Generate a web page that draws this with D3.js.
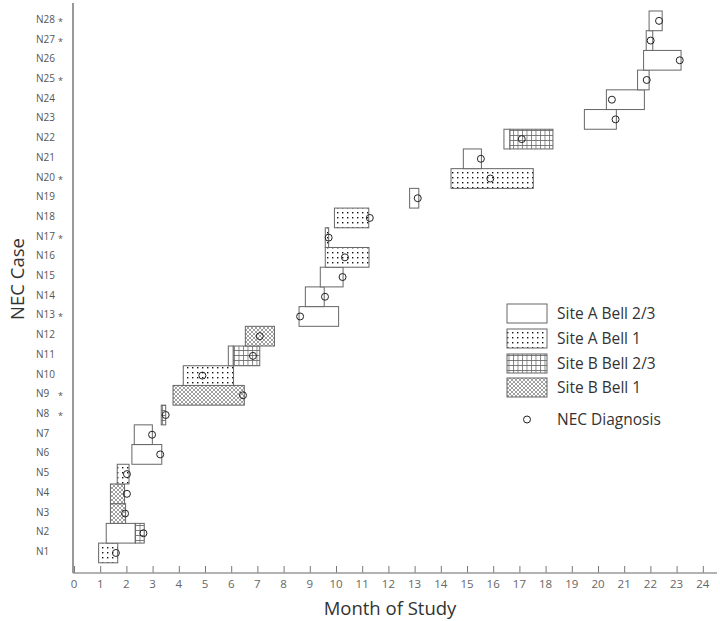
<!DOCTYPE html>
<html>
<head>
<meta charset="utf-8">
<script src="https://cdn.jsdelivr.net/npm/d3@7"></script>
<style>
  body { margin: 0; background: #fff; }
  svg text { font-family: "Open Sans", sans-serif; }
</style>
</head>
<body>
<div id="vis_container"></div>
<script>
// cases, bottom to top
var cases = ["N1","N2","N3","N4","N5","N6","N7","N8","N9","N10","N11","N12","N13","N14",
  "N15","N16","N17","N18","N19","N20","N21","N22","N23","N24","N25","N26","N27","N28"];
var starred = ["N8","N9","N13","N17","N20","N25","N27","N28"];

// exposure segments: case, start month, end month, group
var segCase  = ["N1","N2","N2","N3","N4","N5","N6","N7","N8","N9","N10","N11","N11","N12",
  "N13","N14","N15","N16","N17","N18","N19","N20","N21","N22","N22","N23","N24","N25","N26","N27","N28"];
var segStart = [0.94,1.23,2.34,1.39,1.39,1.65,2.21,2.30,3.33,3.78,4.17,5.89,6.08,6.54,
  8.59,8.83,9.40,9.59,9.59,9.94,12.81,14.39,14.86,16.41,16.64,19.48,20.32,21.51,21.74,21.84,21.95];
var segEnd   = [1.67,2.34,2.68,1.97,1.93,2.10,3.35,2.99,3.50,6.50,6.09,6.08,7.09,7.65,
  10.10,9.55,10.27,11.26,9.72,11.25,13.16,17.53,15.55,16.64,18.28,20.70,21.77,21.95,23.17,22.09,22.45];
var segGroup = ["A1","A23","B23","B1","B1","A1","A23","A23","B23","B1","A1","A23","B23","B1",
  "A23","A23","A23","A1","A1","A1","A23","A1","A23","A23","B23","A23","A23","A23","A23","A23","A23"];

// NEC diagnosis month per case (same order as cases)
var diagnosis = [1.60,2.65,1.95,2.02,2.02,3.29,2.98,3.50,6.45,4.90,6.83,7.09,8.63,9.58,
  10.25,10.34,9.72,11.29,13.12,15.89,15.53,17.09,20.67,20.53,21.86,23.12,22.01,22.33];

var groups = ["A23","A1","B23","B1"];
var groupLabels = ["Site A Bell 2/3","Site A Bell 1","Site B Bell 2/3","Site B Bell 1"];
var xTicks = d3.range(0, 25);

var chart = {};
chart.width = 720;
chart.height = 621;

chart.svg = d3.select("#vis_container").append("svg")
  .attr("width", chart.width)
  .attr("height", chart.height);

// fill patterns
var defs = chart.svg.append("defs");
var pDots = defs.append("pattern").attr("id","pat-A1")
  .attr("patternUnits","userSpaceOnUse").attr("width",5).attr("height",5);
pDots.append("rect").attr("width",5).attr("height",5).attr("fill","#fff");
pDots.append("rect").attr("x",2).attr("y",2).attr("width",1.4).attr("height",1.4).attr("fill","#111");

var pGrid = defs.append("pattern").attr("id","pat-B23")
  .attr("patternUnits","userSpaceOnUse").attr("width",4.5).attr("height",5);
pGrid.append("rect").attr("width",4.5).attr("height",5).attr("fill","#fff");
pGrid.append("path").attr("d","M0,0.5H4.5M0.5,0V5").attr("stroke","#666").attr("stroke-width",0.8);

var pHatch = defs.append("pattern").attr("id","pat-B1")
  .attr("patternUnits","userSpaceOnUse").attr("width",4).attr("height",4);
pHatch.append("rect").attr("width",4).attr("height",4).attr("fill","#fff");
pHatch.append("path").attr("d","M0,0L4,4M4,0L0,4").attr("stroke","#888").attr("stroke-width",0.8);

function fillFor(g) {
  return g === "A23" ? "#fff" : "url(#pat-" + g + ")";
}

chart.x = d3.scaleLinear().domain([0, 24]).range([74, 702.8]);
chart.y = d3.scaleBand().domain(cases).range([562.8, 11]).padding(0);

// axes lines
chart.svg.append("line")
  .attr("x1", 73).attr("x2", 73).attr("y1", 3).attr("y2", 573)
  .attr("stroke", "#999").attr("stroke-width", 2);

var xAxis = chart.svg.append("g")
  .attr("transform", "translate(0,573)")
  .call(d3.axisTop(chart.x).tickValues(xTicks).tickSize(7).tickFormat(""));
xAxis.select(".domain").remove();
xAxis.selectAll(".tick line").attr("stroke", "#777");
xAxis.append("line").attr("x1", 73).attr("x2", 717).attr("y1", 0).attr("y2", 0)
  .attr("stroke", "#999").attr("stroke-width", 1.5);

chart.svg.selectAll(".xlab").data(xTicks).enter().append("text")
  .attr("class","xlab")
  .attr("x", function(d){ return chart.x(d); })
  .attr("y", 587.5)
  .attr("text-anchor","middle")
  .attr("font-size", 11.5)
  .attr("fill", "#666")
  .text(function(d){ return d; });

// case labels
chart.svg.selectAll(".ylab").data(cases).enter().append("text")
  .attr("class","ylab")
  .attr("x", 36)
  .attr("y", function(d){ return chart.y(d) + chart.y.bandwidth()/2 + 2; })
  .attr("font-size", 10)
  .attr("fill", "#555")
  .text(function(d){ return d; });
chart.svg.selectAll(".star").data(starred).enter().append("text")
  .attr("class","star")
  .attr("x", 58)
  .attr("y", function(d){ return chart.y(d) + chart.y.bandwidth()/2 + 4; })
  .attr("font-size", 9)
  .attr("fill", "#555")
  .text("*");

// axis titles
chart.svg.append("text")
  .attr("x", 390).attr("y", 615)
  .attr("text-anchor","middle")
  .attr("font-size", 18.5)
  .attr("fill", "#333")
  .text("Month of Study");
chart.svg.append("text")
  .attr("transform","translate(24,279) rotate(-90)")
  .attr("text-anchor","middle")
  .attr("font-size", 18.5)
  .attr("fill", "#333")
  .text("NEC Case");

// segments
chart.svg.selectAll(".seg").data(d3.range(segCase.length)).enter().append("rect")
  .attr("class","seg")
  .attr("x", function(i){ return chart.x(segStart[i]); })
  .attr("y", function(i){ return chart.y(segCase[i]); })
  .attr("width", function(i){ return chart.x(segEnd[i]) - chart.x(segStart[i]); })
  .attr("height", chart.y.bandwidth())
  .attr("fill", function(i){ return fillFor(segGroup[i]); })
  .attr("stroke", "#666")
  .attr("stroke-width", 1);

// diagnosis markers
chart.svg.selectAll(".dx").data(cases).enter().append("circle")
  .attr("class","dx")
  .attr("cx", function(d,i){ return chart.x(diagnosis[i]); })
  .attr("cy", function(d){ return chart.y(d) + chart.y.bandwidth()/2; })
  .attr("r", 3.5)
  .attr("fill", "none")
  .attr("stroke", "#222")
  .attr("stroke-width", 1);

// legend
var legendY = [313.5, 338.5, 363.5, 387.5];
var legend = chart.svg.append("g");
groups.forEach(function(g, i) {
  legend.append("rect")
    .attr("x", 507).attr("y", legendY[i] - 9.5)
    .attr("width", 40).attr("height", 19)
    .attr("fill", fillFor(g))
    .attr("stroke", "#666").attr("stroke-width", 1);
  legend.append("text")
    .attr("x", 557).attr("y", legendY[i] + 5.5)
    .attr("font-size", 15.5)
    .attr("fill", "#333")
    .text(groupLabels[i]);
});
legend.append("circle")
  .attr("cx", 527).attr("cy", 419.5).attr("r", 3.5)
  .attr("fill","none").attr("stroke","#222").attr("stroke-width",1);
legend.append("text")
  .attr("x", 557).attr("y", 425)
  .attr("font-size", 15.5)
  .attr("fill", "#333")
  .text("NEC Diagnosis");
</script>
</body>
</html>
